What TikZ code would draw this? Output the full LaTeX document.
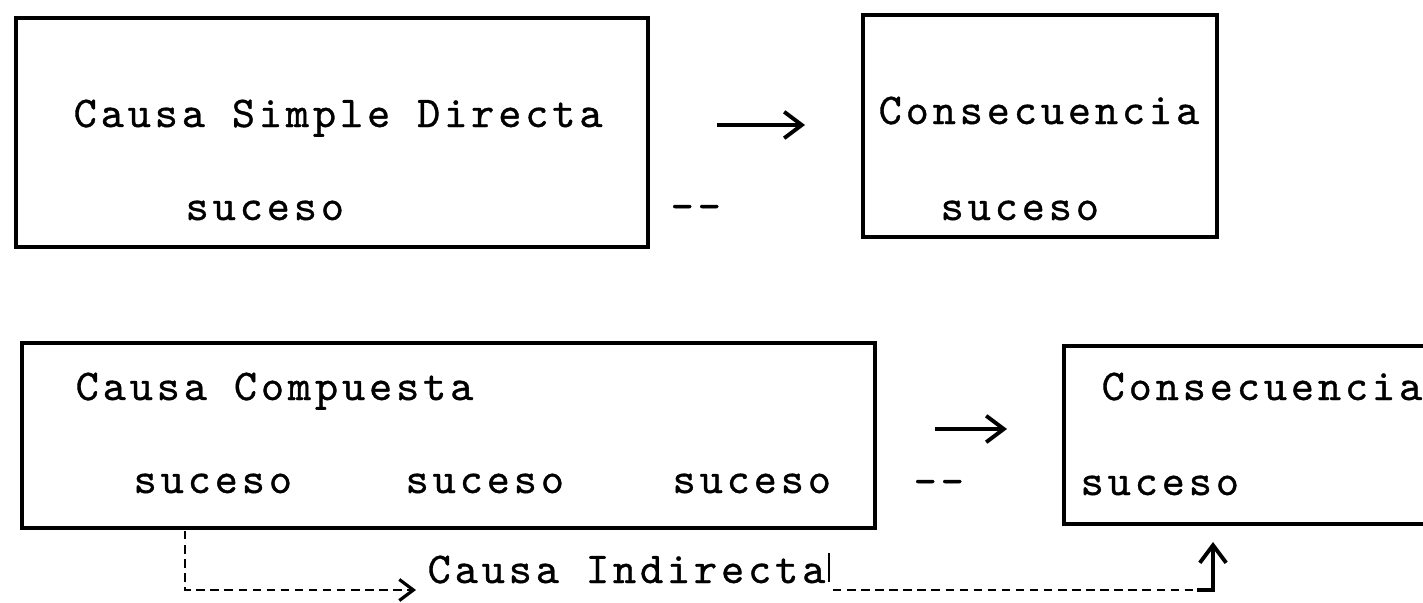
\documentclass[tikz,border=0pt]{standalone}
\usepackage{fontspec}
\newfontfamily\maquina{lmmono10-regular.otf}[LetterSpace=9,FakeBold=0.8]
\usetikzlibrary{arrows.meta,positioning}

\begin{document}
\begin{tikzpicture}[x=0.01cm,y=-0.01cm,
      caja/.style={
         rectangle,
         draw=black,
         line width=1.2pt,
         inner sep=0pt
      },
      texto/.style={
         anchor=base west,
         inner sep=0pt,
         font=\maquina\fontsize{12.5}{14}\selectfont
      },
      flecha/.style={
         line width=1.1pt,
         -{Straight Barb[length=5pt,width=7.5pt,line width=1.1pt]}
      },
      punteada/.style={
         line width=0.7pt,
         dash pattern=on 2.4pt off 1.6pt
      },
      >=Straight Barb
    ]
    \useasboundingbox (0,0) rectangle (1423,603);

    % cajas
    \node (simple) [caja, minimum width=6.32cm, minimum height=2.29cm] at (332,132.5) {};
    \node (consec1) [caja, minimum width=3.54cm, minimum height=2.22cm] at (1040,126) {};
    \node (compuesta) [caja, minimum width=8.53cm, minimum height=1.85cm] at (448.5,435.5) {};
    \node (consec2) [minimum width=3.70cm, minimum height=1.76cm, inner sep=0pt] at (1250,435) {};
    \draw[line width=1.2pt] (consec2.north east) -- (consec2.north west)
       -- (consec2.south west) -- (consec2.south east);

    % textos
    \node (t11) [texto] at (73,127) {Causa Simple Directa};
    \node (t12) [texto] at (185,220) {suceso};
    \node (t13) [texto] at (670,220) {-{}-};
    \node (t21) [texto] at (878,124) {Consecuencia};
    \node (t22) [texto] at (940,220) {suceso};
    \node (t31) [texto] at (75,400) {Causa Compuesta};
    \node (t32) [texto] at (133,493) {suceso};
    \node (t33) [texto] at (405,493) {suceso};
    \node (t34) [texto] at (672,493) {suceso};
    \node (t35) [texto] at (913,495) {-{}-};
    \node (t41) [texto] at (1101,400) {Consecuencia};
    \node (t42) [texto] at (1080,495) {suceso};
    \node (t5) [texto] at (427,583) {Causa Indirecta};

    % flechas
    \coordinate (a1) at (717,125);
    \coordinate (a2) at (805,125);
    \coordinate (b1) at (935,429);
    \coordinate (b2) at (1007,429);
    \draw[flecha] (a1) -- (a2);
    \draw[flecha] (b1) -- (b2);

    % causa indirecta
    \coordinate (d1) at (185,531);
    \coordinate (d2) at (185,590);
    \coordinate (d3) at (416,590);
    \coordinate (e1) at (829,553);
    \coordinate (e2) at (829,582);
    \coordinate (e3) at (833,590);
    \coordinate (e4) at (1197,590);
    \coordinate (e5) at (1213,542);
    \draw[punteada, -{Straight Barb[length=4pt,width=6pt,line width=0.9pt]}] (d1) -- (d2) -- (d3);
    \draw[line width=0.5pt] (e1) -- (e2);
    \draw[punteada] (e3) -- (e4);
    \draw[flecha] (e4) -| (e5);
\end{tikzpicture}
\end{document}
